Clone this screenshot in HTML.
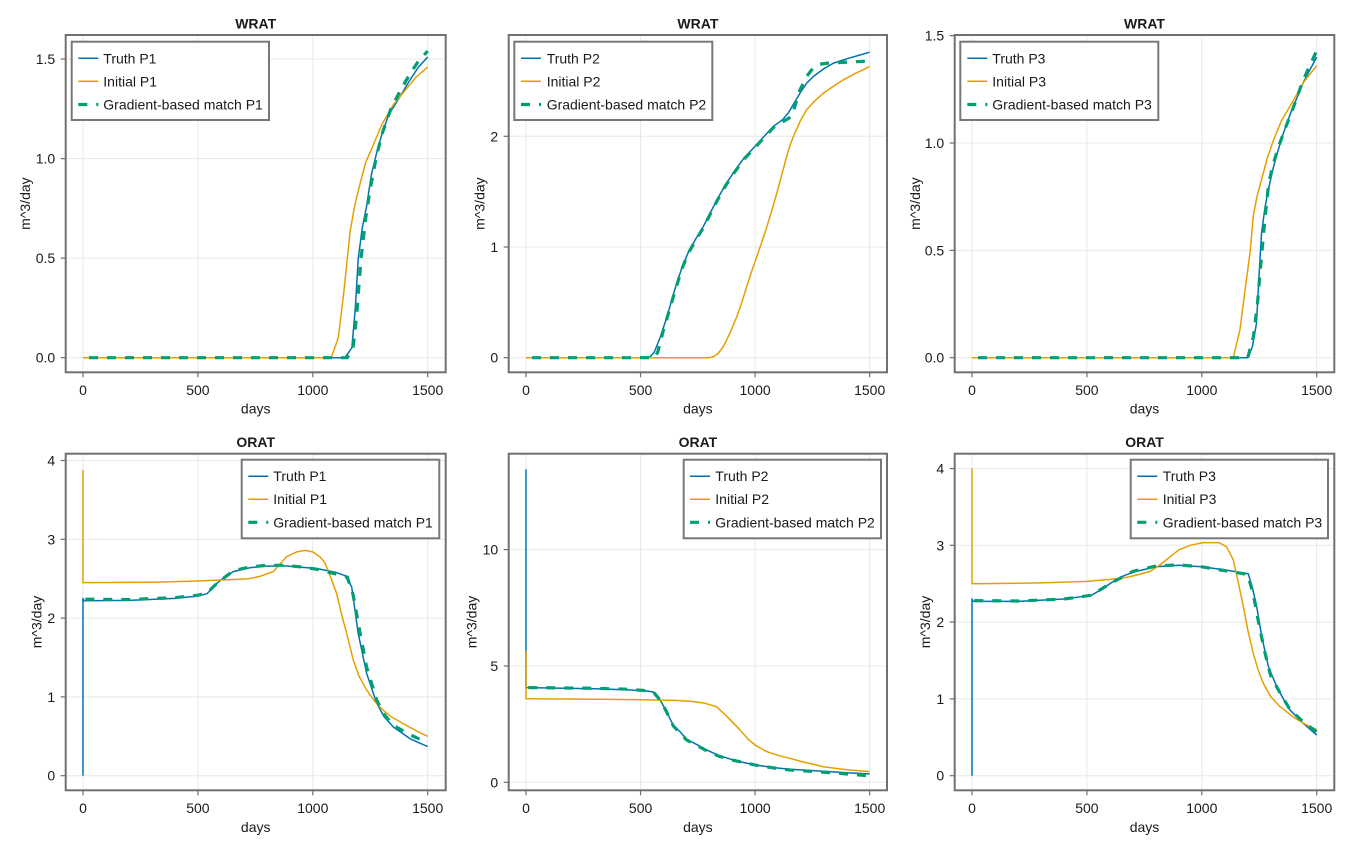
<!DOCTYPE html>
<html><head><meta charset="utf-8"><style>
html,body{margin:0;padding:0;background:#fff;}
svg{display:block;}
text{font-family:"Liberation Sans",sans-serif;fill:#1a1a1a;}
.t{font-size:14px;font-weight:bold;text-anchor:middle;}
.yl{font-size:14px;text-anchor:end;}
.xl{font-size:14px;text-anchor:middle;}
.lab{font-size:14px;text-anchor:middle;}
.lg{font-size:14px;}
</style></head><body>
<svg id="s" width="1350" height="850" viewBox="0 0 1350 850" xmlns="http://www.w3.org/2000/svg">
<rect width="1350" height="850" fill="#fff"/>
<defs id="defs"></defs>
<g id="g1"></g>
<!-- titles -->
<text class="t" x="255.7" y="28.5">WRAT</text>
<text class="t" x="697.9" y="28.5">WRAT</text>
<text class="t" x="1144.5" y="28.5">WRAT</text>
<text class="t" x="255.7" y="446.8">ORAT</text>
<text class="t" x="697.9" y="446.8">ORAT</text>
<text class="t" x="1144.5" y="446.8">ORAT</text>
<!-- x labels -->
<text class="lab" x="255.7" y="413.5">days</text>
<text class="lab" x="697.9" y="413.5">days</text>
<text class="lab" x="1144.5" y="413.5">days</text>
<text class="lab" x="255.7" y="831.8">days</text>
<text class="lab" x="697.9" y="831.8">days</text>
<text class="lab" x="1144.5" y="831.8">days</text>
<!-- y labels -->
<text class="lab" transform="translate(30,203.6) rotate(-90)">m^3/day</text>
<text class="lab" transform="translate(484.3,203.6) rotate(-90)">m^3/day</text>
<text class="lab" transform="translate(920,203.6) rotate(-90)">m^3/day</text>
<text class="lab" transform="translate(41.7,622) rotate(-90)">m^3/day</text>
<text class="lab" transform="translate(476.7,622) rotate(-90)">m^3/day</text>
<text class="lab" transform="translate(930,622) rotate(-90)">m^3/day</text>
<!-- x tick labels top -->
<text class="xl" x="83" y="394.8">0</text>
<text class="xl" x="197.9" y="394.8">500</text>
<text class="xl" x="312.8" y="394.8">1000</text>
<text class="xl" x="427.7" y="394.8">1500</text>
<text class="xl" x="526" y="394.8">0</text>
<text class="xl" x="640.6" y="394.8">500</text>
<text class="xl" x="755.1" y="394.8">1000</text>
<text class="xl" x="869.7" y="394.8">1500</text>
<text class="xl" x="972" y="394.8">0</text>
<text class="xl" x="1086.9" y="394.8">500</text>
<text class="xl" x="1201.8" y="394.8">1000</text>
<text class="xl" x="1316.7" y="394.8">1500</text>
<!-- x tick labels bottom -->
<text class="xl" x="83" y="812.8">0</text>
<text class="xl" x="197.9" y="812.8">500</text>
<text class="xl" x="312.8" y="812.8">1000</text>
<text class="xl" x="427.7" y="812.8">1500</text>
<text class="xl" x="526" y="812.8">0</text>
<text class="xl" x="640.6" y="812.8">500</text>
<text class="xl" x="755.1" y="812.8">1000</text>
<text class="xl" x="869.7" y="812.8">1500</text>
<text class="xl" x="972" y="812.8">0</text>
<text class="xl" x="1086.9" y="812.8">500</text>
<text class="xl" x="1201.8" y="812.8">1000</text>
<text class="xl" x="1316.7" y="812.8">1500</text>
<!-- y tick labels -->
<text class="yl" x="55.2" y="362.7">0.0</text>
<text class="yl" x="55.2" y="263.1">0.5</text>
<text class="yl" x="55.2" y="163.6">1.0</text>
<text class="yl" x="55.2" y="64.0">1.5</text>
<text class="yl" x="498.2" y="362.7">0</text>
<text class="yl" x="498.2" y="252.0">1</text>
<text class="yl" x="498.2" y="141.3">2</text>
<text class="yl" x="944.2" y="362.7">0.0</text>
<text class="yl" x="944.2" y="255.4">0.5</text>
<text class="yl" x="944.2" y="148.0">1.0</text>
<text class="yl" x="944.2" y="40.7">1.5</text>
<text class="yl" x="55.2" y="780.7">0</text>
<text class="yl" x="55.2" y="701.9">1</text>
<text class="yl" x="55.2" y="623.1">2</text>
<text class="yl" x="55.2" y="544.3">3</text>
<text class="yl" x="55.2" y="465.5">4</text>
<text class="yl" x="498.2" y="787.3">0</text>
<text class="yl" x="498.2" y="671.0">5</text>
<text class="yl" x="498.2" y="554.6">10</text>
<text class="yl" x="944.2" y="780.7">0</text>
<text class="yl" x="944.2" y="703.9">1</text>
<text class="yl" x="944.2" y="627.1">2</text>
<text class="yl" x="944.2" y="550.3">3</text>
<text class="yl" x="944.2" y="473.5">4</text>
<!-- legends text -->
<text class="lg" x="103.3" y="63.3">Truth P1</text>
<text class="lg" x="103.3" y="86.3">Initial P1</text>
<text class="lg" x="103.3" y="109.5">Gradient-based match P1</text>
<text class="lg" x="546.7" y="63.3">Truth P2</text>
<text class="lg" x="546.7" y="86.3">Initial P2</text>
<text class="lg" x="546.7" y="109.5">Gradient-based match P2</text>
<text class="lg" x="992.3" y="63.3">Truth P3</text>
<text class="lg" x="992.3" y="86.3">Initial P3</text>
<text class="lg" x="992.3" y="109.5">Gradient-based match P3</text>
<text class="lg" x="273.3" y="481.2">Truth P1</text>
<text class="lg" x="273.3" y="504.2">Initial P1</text>
<text class="lg" x="273.3" y="527.3">Gradient-based match P1</text>
<text class="lg" x="715.3" y="481.2">Truth P2</text>
<text class="lg" x="715.3" y="504.2">Initial P2</text>
<text class="lg" x="715.3" y="527.3">Gradient-based match P2</text>
<text class="lg" x="1162.7" y="481.2">Truth P3</text>
<text class="lg" x="1162.7" y="504.2">Initial P3</text>
<text class="lg" x="1162.7" y="527.3">Gradient-based match P3</text>
</svg>
<script>
(function(){
var NS="http://www.w3.org/2000/svg";
var g=document.getElementById("g1"), defs=document.getElementById("defs");
function el(n,a,p){var e=document.createElementNS(NS,n);for(var k in a)e.setAttribute(k,a[k]);(p||g).appendChild(e);return e;}
var BLUE="#0072B2",ORANGE="#E69F00",GREEN="#009E73";
var P=[
{L:65.7,R:445.7,T:35,B:372.3,x0:83,xs:0.2298,y0:357.7,ys:199.1,yt:[0,0.5,1,1.5],
 leg:{l:71.7,t:41.7,r:269,b:120,lx:78.3,rows:[58.3,81.3,104.5]},
 tr:[[0,0],[1140,0],[1170,0.05],[1185,0.25],[1198,0.5],[1215,0.65],[1234,0.76],[1255,0.92],[1278,1.03],[1300,1.12],[1330,1.22],[1379,1.31],[1420,1.39],[1460,1.46],[1500,1.51]],
 in:[[0,0],[1080,0],[1111,0.1],[1135,0.33],[1162,0.63],[1180,0.75],[1198,0.84],[1230,0.98],[1260,1.06],[1300,1.17],[1350,1.27],[1400,1.34],[1450,1.41],[1500,1.46]],
 gr:[[0,0],[1150,0],[1175,0.05],[1190,0.2],[1210,0.5],[1230,0.7],[1250,0.85],[1275,1.0],[1300,1.12],[1340,1.25],[1380,1.34],[1420,1.42],[1460,1.49],[1500,1.54]]},
{L:508.7,R:887,T:35,B:372.3,x0:526,xs:0.2291,y0:357.7,ys:110.7,yt:[0,1,2],
 leg:{l:514.3,t:41.7,r:712.3,b:120,lx:521,rows:[58.3,81.3,104.5]},
 tr:[[0,0],[538,0],[560,0.05],[585,0.18],[614,0.36],[650,0.62],[680,0.81],[710,0.96],[740,1.07],[770,1.17],[800,1.29],[832,1.42],[870,1.56],[905,1.67],[950,1.8],[1000,1.91],[1040,2.0],[1080,2.09],[1120,2.15],[1145,2.21],[1170,2.3],[1196,2.39],[1225,2.48],[1254,2.54],[1300,2.61],[1341,2.66],[1400,2.7],[1450,2.73],[1500,2.76]],
 in:[[0,0],[800,0],[820,0.01],[839,0.04],[858,0.09],[876,0.16],[898,0.26],[920,0.37],[942,0.5],[963,0.64],[985,0.78],[1007,0.91],[1030,1.05],[1051,1.18],[1073,1.33],[1094,1.48],[1116,1.65],[1138,1.82],[1156,1.94],[1174,2.03],[1200,2.15],[1225,2.24],[1260,2.32],[1298,2.39],[1340,2.45],[1385,2.51],[1440,2.57],[1500,2.63]],
 gr:[[0,0],[560,0],[575,0.05],[600,0.25],[650,0.6],[680,0.8],[710,0.95],[740,1.06],[770,1.16],[800,1.28],[832,1.41],[870,1.55],[905,1.66],[950,1.79],[1000,1.9],[1040,1.99],[1080,2.08],[1120,2.13],[1160,2.18],[1196,2.42],[1225,2.54],[1254,2.62],[1280,2.65],[1312,2.66],[1400,2.67],[1500,2.68]]},
{L:954.7,R:1334.3,T:35,B:372.3,x0:972,xs:0.2298,y0:357.7,ys:214.7,yt:[0,0.5,1,1.5],
 leg:{l:960.3,t:41.7,r:1158.3,b:120,lx:967.3,rows:[58.3,81.3,104.5]},
 tr:[[0,0],[1200,0],[1220,0.05],[1238,0.16],[1250,0.4],[1260,0.58],[1275,0.7],[1289,0.78],[1310,0.88],[1325,0.94],[1350,1.03],[1383,1.13],[1410,1.2],[1441,1.28],[1470,1.34],[1500,1.40]],
 in:[[0,0],[1137,0],[1166,0.13],[1190,0.33],[1210,0.49],[1224,0.66],[1240,0.75],[1260,0.83],[1285,0.93],[1311,1.01],[1345,1.1],[1383,1.17],[1410,1.22],[1441,1.28],[1470,1.32],[1500,1.36]],
 gr:[[0,0],[1200,0],[1225,0.1],[1242,0.25],[1258,0.45],[1275,0.65],[1290,0.8],[1305,0.88],[1330,0.97],[1360,1.06],[1400,1.17],[1440,1.29],[1470,1.36],[1500,1.43]]},
{L:65.7,R:445.7,T:453.7,B:790.3,x0:83,xs:0.2298,y0:775.7,ys:78.8,yt:[0,1,2,3,4],
 leg:{l:241.7,t:459.7,r:439.3,b:538.3,lx:248.3,rows:[476.2,499.2,522.3]},
 tr:[[0,0],[0,2.25],[5,2.22],[200,2.225],[400,2.25],[500,2.28],[540,2.31],[582,2.44],[620,2.53],[654,2.59],[727,2.64],[800,2.66],[871,2.665],[950,2.645],[1017,2.63],[1100,2.58],[1140,2.54],[1169,2.4],[1198,1.8],[1234,1.3],[1278,0.92],[1310,0.75],[1350,0.62],[1423,0.47],[1460,0.42],[1500,0.37]],
 in:[[0,3.88],[0,2.45],[5,2.45],[300,2.455],[500,2.47],[654,2.49],[720,2.5],[770,2.53],[828,2.59],[886,2.78],[930,2.84],[966,2.86],[1000,2.84],[1030,2.78],[1053,2.7],[1080,2.5],[1104,2.31],[1125,2.05],[1147,1.81],[1176,1.47],[1200,1.27],[1234,1.09],[1270,0.94],[1307,0.83],[1340,0.75],[1400,0.65],[1450,0.57],[1500,0.5]],
 gr:[[10,2.24],[200,2.235],[400,2.26],[500,2.29],[540,2.32],[582,2.44],[654,2.6],[727,2.65],[800,2.67],[871,2.67],[950,2.65],[1017,2.62],[1100,2.56],[1150,2.52],[1175,2.3],[1200,1.9],[1234,1.38],[1278,0.96],[1310,0.78],[1350,0.64],[1423,0.52],[1460,0.47],[1500,0.44]]},
{L:508.7,R:887,T:453.7,B:790.3,x0:526,xs:0.2291,y0:782.3,ys:23.27,yt:[0,5,10],
 leg:{l:683.7,t:459.7,r:881,b:538.3,lx:690,rows:[476.2,499.2,522.3]},
 tr:[[0,13.45],[0,4.07],[5,4.07],[300,4.02],[450,3.97],[530,3.92],[556,3.88],[585,3.54],[610,3.1],[643,2.45],[670,2.2],[701,1.85],[750,1.6],[788,1.39],[840,1.16],[904,0.96],[950,0.85],[1006,0.74],[1080,0.63],[1152,0.56],[1250,0.5],[1350,0.44],[1420,0.4],[1500,0.36]],
 in:[[0,5.65],[0,3.59],[5,3.59],[300,3.57],[500,3.55],[650,3.52],[720,3.48],[780,3.4],[831,3.25],[870,2.9],[900,2.6],[934,2.25],[970,1.85],[1000,1.6],[1050,1.32],[1100,1.16],[1152,1.03],[1200,0.9],[1298,0.67],[1400,0.54],[1500,0.46]],
 gr:[[10,4.07],[300,4.04],[450,4.0],[530,3.93],[556,3.88],[585,3.54],[610,3.1],[643,2.42],[670,2.15],[701,1.82],[750,1.56],[788,1.36],[840,1.13],[904,0.95],[950,0.85],[1006,0.73],[1080,0.62],[1152,0.53],[1250,0.47],[1350,0.4],[1420,0.34],[1500,0.28]]},
{L:954.7,R:1334.3,T:453.7,B:790.3,x0:972,xs:0.2298,y0:775.7,ys:76.8,yt:[0,1,2,3,4],
 leg:{l:1130.7,t:459.7,r:1328,b:538.3,lx:1137.3,rows:[476.2,499.2,522.3]},
 tr:[[0,0],[0,2.3],[5,2.27],[200,2.27],[400,2.3],[520,2.35],[560,2.42],[600,2.5],[650,2.59],[700,2.65],[800,2.72],[900,2.74],[1000,2.72],[1100,2.68],[1202,2.63],[1220,2.45],[1239,2.2],[1261,1.81],[1290,1.42],[1326,1.16],[1355,1.0],[1384,0.855],[1442,0.68],[1500,0.53]],
 in:[[0,4.0],[0,2.505],[5,2.5],[300,2.51],[500,2.53],[650,2.57],[700,2.6],[775,2.66],[820,2.75],[862,2.85],[900,2.94],[949,3.0],[1006,3.035],[1075,3.035],[1108,2.98],[1137,2.81],[1160,2.5],[1181,2.2],[1200,1.9],[1224,1.59],[1245,1.38],[1268,1.2],[1300,1.03],[1340,0.9],[1400,0.76],[1450,0.67],[1500,0.6]],
 gr:[[10,2.28],[200,2.275],[400,2.3],[520,2.35],[600,2.5],[700,2.66],[800,2.73],[900,2.745],[1000,2.72],[1100,2.67],[1200,2.62],[1225,2.35],[1250,1.95],[1275,1.6],[1300,1.3],[1340,1.08],[1384,0.86],[1442,0.7],[1500,0.57]]}
];
P.forEach(function(p,i){
  var cid="c"+i;
  var cp=el("clipPath",{id:cid},defs);
  el("rect",{x:p.L,y:p.T,width:p.R-p.L,height:p.B-p.T},cp);
  [0,500,1000,1500].forEach(function(d){var x=p.x0+d*p.xs;
    el("line",{x1:x,x2:x,y1:p.T,y2:p.B,stroke:"#e8e8e8","stroke-width":1});
    el("line",{x1:x,x2:x,y1:p.B,y2:p.B+5,stroke:"#6e6e6e","stroke-width":1.2});
  });
  p.yt.forEach(function(v){var y=p.y0-v*p.ys;
    el("line",{x1:p.L,x2:p.R,y1:y,y2:y,stroke:"#e8e8e8","stroke-width":1});
    el("line",{x1:p.L-5,x2:p.L,y1:y,y2:y,stroke:"#6e6e6e","stroke-width":1.2});
  });
  var dg=el("g",{"clip-path":"url(#"+cid+")"});
  function pts(a){return a.map(function(q){return (p.x0+q[0]*p.xs).toFixed(2)+","+(p.y0-q[1]*p.ys).toFixed(2);}).join(" ");}
  el("polyline",{points:pts(p.tr),fill:"none",stroke:BLUE,"stroke-width":1.5,"stroke-linejoin":"round"},dg);
  el("polyline",{points:pts(p.in),fill:"none",stroke:ORANGE,"stroke-width":1.5,"stroke-linejoin":"round"},dg);
  el("polyline",{points:pts(p.gr),fill:"none",stroke:GREEN,"stroke-width":3.2,"stroke-dasharray":"9 9","stroke-dashoffset":(p.gr[0][0]>0?0:12)},dg);
  el("rect",{x:p.L,y:p.T,width:p.R-p.L,height:p.B-p.T,fill:"none",stroke:"#707070","stroke-width":2});
  var L=p.leg;
  el("rect",{x:L.l,y:L.t,width:L.r-L.l,height:L.b-L.t,fill:"#fff",stroke:"#777","stroke-width":2});
  el("line",{x1:L.lx,x2:L.lx+20,y1:L.rows[0],y2:L.rows[0],stroke:BLUE,"stroke-width":1.5});
  el("line",{x1:L.lx,x2:L.lx+20,y1:L.rows[1],y2:L.rows[1],stroke:ORANGE,"stroke-width":1.5});
  el("line",{x1:L.lx,x2:L.lx+20,y1:L.rows[2],y2:L.rows[2],stroke:GREEN,"stroke-width":3.2,"stroke-dasharray":"9 9"});
});
})();
</script>
</body></html>
